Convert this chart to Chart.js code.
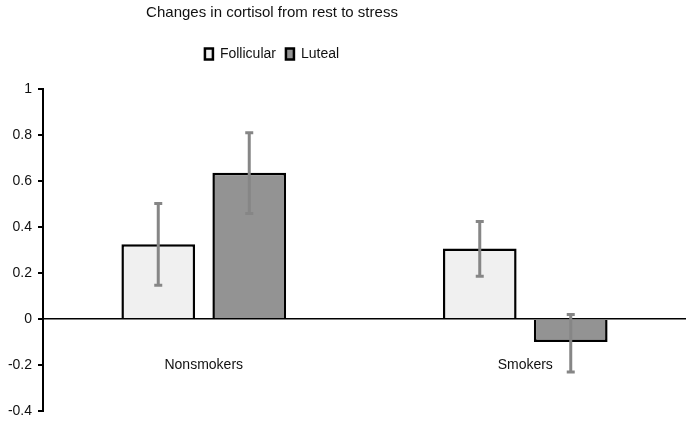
<!DOCTYPE html>
<html>
<head>
<meta charset="utf-8">
<script src="https://cdn.jsdelivr.net/npm/chart.js@4.4.1/dist/chart.umd.min.js"></script>
<style>
	html, body { margin: 0; padding: 0; background: #fff; overflow: hidden; }
	#wrap { position: absolute; left: -142px; top: 0; width: 828px; height: 421px; }
</style>
</head>
<body>
<div id="wrap"><canvas id="cortisol_bar"></canvas></div>
<script>
var groups = ['Nonsmokers', 'Smokers'];
var follicular = [0.325, 0.307];
var luteal = [0.636, -0.10];
// error bar ends (low, high)
var follicularLow = [0.147, 0.186];
var follicularHigh = [0.502, 0.424];
var lutealLow = [0.459, -0.23];
var lutealHigh = [0.81, 0.02];
var yTicks = [-0.4, -0.2, 0, 0.2, 0.4, 0.6, 0.8, 1];

var errorBars = {
	id: 'errorBars',
	afterDatasetsDraw: function (chart) {
		var ctx = chart.ctx;
		var y = chart.scales.y;
		var lows = [follicularLow, lutealLow];
		var highs = [follicularHigh, lutealHigh];
		ctx.save();
		ctx.strokeStyle = '#868686';
		ctx.lineWidth = 3;
		chart.data.datasets.forEach(function (ds, i) {
			chart.getDatasetMeta(i).data.forEach(function (bar, j) {
				var x = bar.x;
				var top = y.getPixelForValue(highs[i][j]);
				var bottom = y.getPixelForValue(lows[i][j]);
				ctx.beginPath();
				ctx.moveTo(x, top);
				ctx.lineTo(x, bottom);
				ctx.moveTo(x - 4, top);
				ctx.lineTo(x + 4, top);
				ctx.moveTo(x - 4, bottom);
				ctx.lineTo(x + 4, bottom);
				ctx.stroke();
			});
		});
		ctx.restore();
	}
};

// extra space under the legend
var legendMargin = {
	id: 'legendMargin',
	beforeInit: function (chart) {
		var fit = chart.legend.fit;
		chart.legend.fit = function () {
			fit.bind(chart.legend)();
			this.height += 18;
		};
	}
};

var ctx = document.getElementById('cortisol_bar').getContext('2d');
new Chart(ctx, {
	type: 'bar',
	data: {
		labels: groups,
		datasets: [{
			label: 'Follicular',
			data: follicular,
			backgroundColor: '#f0f0f0',
			borderColor: '#000',
			borderWidth: 2.5,
			categoryPercentage: 0.566,
			barPercentage: 0.81
		}, {
			label: 'Luteal',
			data: luteal,
			backgroundColor: '#939393',
			borderColor: '#000',
			borderWidth: 2.5,
			categoryPercentage: 0.566,
			barPercentage: 0.81
		}]
	},
	options: {
		responsive: true,
		maintainAspectRatio: false,
		animation: false,
		layout: { padding: { left: 0, right: 0, top: 0, bottom: 10 } },
		scales: {
			x: {
				position: { y: 0 },
				grid: { display: false, drawTicks: false },
				border: { color: '#000', width: 1.5 },
				ticks: { color: '#111', padding: 38, font: { family: 'Liberation Sans', size: 14 } }
			},
			y: {
				min: -0.4,
				max: 1,
				afterFit: function (scale) {
					scale.width = 185;
					scale.paddingBottom = 0;
				},
				afterBuildTicks: function (scale) {
					scale.ticks = yTicks.map(function (v) { return { value: v }; });
				},
				grid: { drawOnChartArea: false, tickLength: 5, color: '#000', lineWidth: 2 },
				border: { color: '#000', width: 2 },
				ticks: {
					color: '#111',
					padding: 6,
					font: { family: 'Liberation Sans', size: 14 },
					callback: function (v) { return Number(v.toFixed(1)).toString(); }
				}
			}
		},
		plugins: {
			title: {
				display: true,
				text: 'Changes in cortisol from rest to stress',
				color: '#111',
				font: { family: 'Liberation Sans', size: 15, weight: 'normal' },
				padding: { top: 4, bottom: 15 }
			},
			legend: {
				display: true,
				labels: {
					color: '#111',
					boxWidth: 8,
					boxHeight: 11,
					font: { family: 'Liberation Sans', size: 14 },
					padding: 10
				}
			},
			tooltip: { enabled: false }
		}
	},
	plugins: [errorBars, legendMargin]
});
</script>
</body>
</html>
